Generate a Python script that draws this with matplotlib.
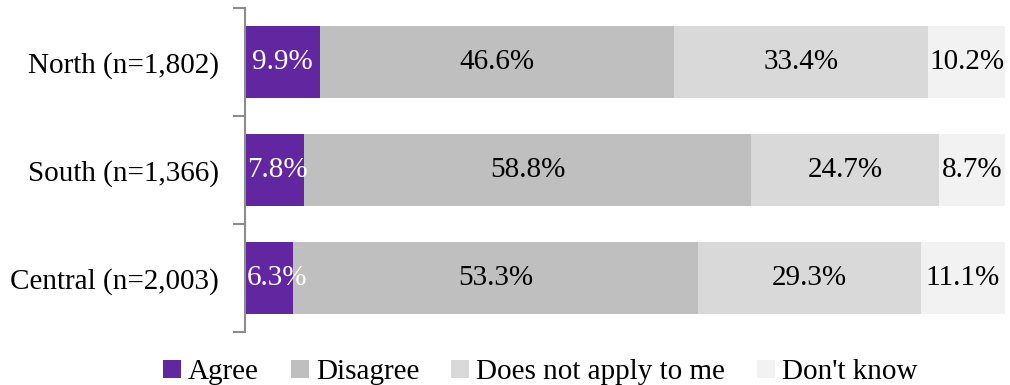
import numpy as np
import matplotlib
matplotlib.use("Agg")
import matplotlib.pyplot as plt

plt.rcParams["font.family"] = ["Liberation Serif", "DejaVu Serif"]

regions = ["North (n=1,802)", "South (n=1,366)", "Central (n=2,003)"]
series = ["Agree", "Disagree", "Does not apply to me", "Don't know"]
agree = [9.9, 7.8, 6.3]
disagree = [46.6, 58.8, 53.3]
not_apply = [33.4, 24.7, 29.3]
dont_know = [10.2, 8.7, 11.1]

colors = ["#6226a0", "#bfbfbf", "#d9d9d9", "#f2f2f2"]
text_colors = ["white", "black", "black", "black"]

fig = plt.figure(figsize=(10.1, 3.85), dpi=100)
ax = fig.add_axes([0.2426, 0.138, 0.7525, 0.841])

y = np.arange(len(regions))
left = np.zeros(len(regions))
for vals, name, c, tc in zip([agree, disagree, not_apply, dont_know], series, colors, text_colors):
    vals = np.array(vals)
    ax.barh(y, vals, left=left, height=0.667, color=c, label=name)
    for yi, l, v in zip(y, left, vals):
        xpos = max(l + v / 2, 4.2) if name == "Agree" else l + v / 2
        ax.text(xpos, yi, f"{v:.1f}%", ha="center", va="center", color=tc, fontsize=21)
    left += vals

ax.set_xlim(0, 100)
ax.set_ylim(2.5, -0.5)
ax.set_yticks(y)
ax.set_yticklabels(regions, fontsize=21)
ax.set_yticks([-0.5, 0.5, 1.5, 2.5], minor=True)
ax.tick_params(axis="y", which="major", length=0, pad=19)
ax.tick_params(axis="y", which="minor", length=9, width=1.5, color="#8c8c8c")
ax.set_xticks([])
for s in ["top", "right", "bottom"]:
    ax.spines[s].set_visible(False)
ax.spines["left"].set_color("#8c8c8c")
ax.spines["left"].set_linewidth(1.5)

fig.legend(loc="center", bbox_to_anchor=(0.535, 0.033), ncol=4, frameon=False,
           fontsize=21, handlelength=0.6, handleheight=0.6, handletextpad=0.25,
           columnspacing=1.1, borderaxespad=0)

fig.savefig("out.png", dpi=100)
